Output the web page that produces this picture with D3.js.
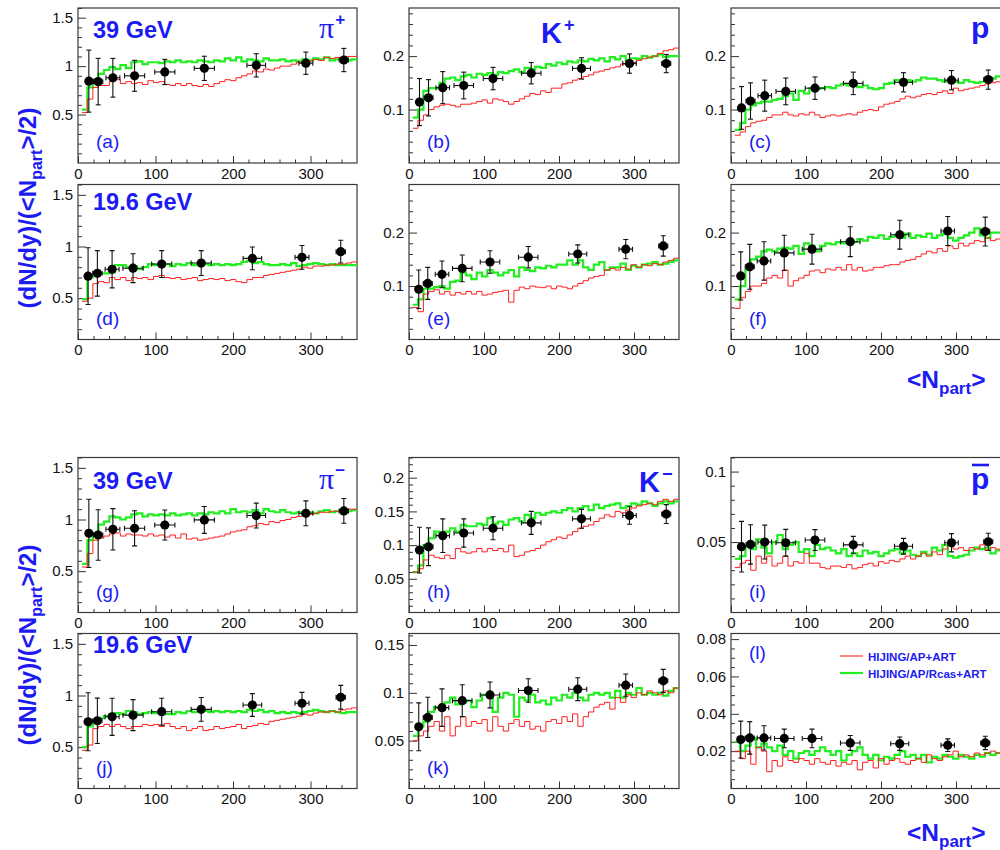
<!DOCTYPE html>
<html>
<head>
<meta charset="utf-8">
<script src="https://cdn.jsdelivr.net/npm/d3@7"></script>
<style>
body { margin: 0; background: #fff; }
text { font-family: "Liberation Sans", Arial, Helvetica, sans-serif; }
</style>
</head>
<body>
<div class="fig"></div>
<script>
// model histograms: 50 bins in <Npart>
const binLow = 5, binWidth = 7.1, nBins = 50;

// measured points
const npart39 = [14, 26, 45, 73, 112, 163, 230, 294, 343];
const npart196 = [13, 25, 44, 71, 108, 159, 225, 289, 339];
const npartErr = [4, 6, 9, 13, 13, 13, 12, 9, 6];

// (a) pi+ 39 GeV
const greenA = [0.55, 0.78, 0.86, 0.92, 0.96, 0.99, 0.97, 1.01, 0.98, 1.04,
  1.05, 1.02, 1.04, 1.04, 1.03, 1.05, 1.04, 1.06, 1.04, 1.05,
  1.04, 1.06, 1.05, 1.04, 1.06, 1.05, 1.08, 1.06, 1.09, 1.05,
  1.07, 1.06, 1.05, 1.08, 1.06, 1.06, 1.07, 1.05, 1.06, 1.05,
  1.07, 1.06, 1.08, 1.07, 1.09, 1.06, 1.07, 1.08, 1.06, 1.07];
const redA = [0.52, 0.66, 0.78, 0.80, 0.80, 0.84, 0.86, 0.82, 0.84, 0.82,
  0.83, 0.81, 0.85, 0.83, 0.84, 0.81, 0.80, 0.82, 0.80, 0.82,
  0.80, 0.79, 0.81, 0.79, 0.82, 0.84, 0.86, 0.85, 0.88, 0.90,
  0.92, 0.95, 0.94, 0.97, 0.96, 0.98, 1.00, 1.00, 1.02, 1.04,
  1.03, 1.05, 1.07, 1.06, 1.09, 1.08, 1.09, 1.08, 1.10, 1.10];
const ptsA = [0.845, 0.84, 0.88, 0.90, 0.94, 0.977, 1.008, 1.03, 1.063];
const errA = [0.32, 0.24, 0.20, 0.16, 0.13, 0.125, 0.12, 0.115, 0.12];

// (b) K+ 39 GeV
const greenB = [0.085, 0.10, 0.135, 0.14, 0.14, 0.15, 0.158, 0.16, 0.155, 0.162,
  0.165, 0.16, 0.167, 0.165, 0.168, 0.165, 0.17, 0.168, 0.172, 0.175,
  0.17, 0.178, 0.175, 0.18, 0.178, 0.185, 0.182, 0.188, 0.185, 0.19,
  0.188, 0.192, 0.19, 0.195, 0.192, 0.196, 0.19, 0.198, 0.194, 0.2,
  0.192, 0.196, 0.195, 0.2, 0.197, 0.2, 0.203, 0.198, 0.2, 0.2];
const redB = [0.065, 0.08, 0.09, 0.10, 0.105, 0.108, 0.11, 0.108, 0.105, 0.11,
  0.11, 0.112, 0.115, 0.118, 0.112, 0.12, 0.118, 0.115, 0.11, 0.115,
  0.12, 0.125, 0.13, 0.128, 0.135, 0.132, 0.14, 0.14, 0.148, 0.15,
  0.155, 0.158, 0.162, 0.165, 0.17, 0.172, 0.175, 0.178, 0.18, 0.185,
  0.19, 0.188, 0.192, 0.195, 0.198, 0.2, 0.205, 0.21, 0.212, 0.215];
const ptsB = [0.114, 0.122, 0.141, 0.145, 0.158, 0.168, 0.177, 0.186, 0.186];
const errB = [0.044, 0.034, 0.03, 0.025, 0.021, 0.02, 0.02, 0.018, 0.017];

// (c) p 39 GeV
const greenC = [0.062, 0.075, 0.10, 0.108, 0.112, 0.115, 0.115, 0.118, 0.12, 0.125,
  0.13, 0.118, 0.135, 0.13, 0.14, 0.138, 0.14, 0.142, 0.14, 0.145,
  0.148, 0.145, 0.148, 0.142, 0.145, 0.14, 0.138, 0.14, 0.148, 0.15,
  0.155, 0.15, 0.155, 0.152, 0.155, 0.16, 0.158, 0.158, 0.155, 0.152,
  0.155, 0.152, 0.15, 0.155, 0.152, 0.15, 0.152, 0.155, 0.158, 0.162];
const redC = [0.052, 0.058, 0.068, 0.075, 0.078, 0.08, 0.085, 0.09, 0.09, 0.095,
  0.09, 0.088, 0.092, 0.09, 0.095, 0.09, 0.085, 0.088, 0.09, 0.088,
  0.09, 0.092, 0.09, 0.095, 0.098, 0.10, 0.098, 0.105, 0.11, 0.112,
  0.115, 0.12, 0.125, 0.122, 0.125, 0.128, 0.13, 0.128, 0.132, 0.135,
  0.13, 0.14, 0.135, 0.138, 0.14, 0.142, 0.145, 0.148, 0.15, 0.152];
const ptsC = [0.103, 0.116, 0.126, 0.134, 0.14, 0.149, 0.151, 0.155, 0.156];
const errC = [0.04, 0.034, 0.029, 0.025, 0.021, 0.021, 0.018, 0.018, 0.018];

// (d) pi+ 19.6 GeV
const greenD = [0.49, 0.70, 0.73, 0.74, 0.74, 0.75, 0.82, 0.82, 0.80, 0.81,
  0.78, 0.80, 0.83, 0.82, 0.82, 0.83, 0.81, 0.83, 0.82, 0.84,
  0.82, 0.84, 0.83, 0.82, 0.83, 0.82, 0.83, 0.82, 0.83, 0.85,
  0.86, 0.84, 0.85, 0.83, 0.82, 0.82, 0.83, 0.82, 0.84, 0.81,
  0.82, 0.83, 0.84, 0.83, 0.82, 0.83, 0.82, 0.82, 0.82, 0.82];
const redD = [0.47, 0.50, 0.64, 0.66, 0.65, 0.70, 0.68, 0.70, 0.67, 0.70,
  0.69, 0.70, 0.68, 0.71, 0.72, 0.70, 0.69, 0.70, 0.68, 0.69,
  0.70, 0.67, 0.68, 0.69, 0.68, 0.69, 0.67, 0.68, 0.66, 0.65,
  0.68, 0.70, 0.70, 0.72, 0.73, 0.74, 0.75, 0.76, 0.77, 0.78,
  0.80, 0.79, 0.81, 0.81, 0.82, 0.82, 0.83, 0.83, 0.84, 0.85];
const ptsD = [0.713, 0.74, 0.78, 0.79, 0.83, 0.84, 0.885, 0.895, 0.95];
const errD = [0.275, 0.22, 0.18, 0.14, 0.13, 0.12, 0.11, 0.115, 0.11];

// (e) K+ 19.6 GeV
const greenE = [0.065, 0.075, 0.095, 0.095, 0.098, 0.10, 0.095, 0.108, 0.11, 0.125,
  0.12, 0.113, 0.125, 0.118, 0.13, 0.125, 0.12, 0.125, 0.13, 0.118,
  0.135, 0.13, 0.128, 0.135, 0.133, 0.138, 0.135, 0.14, 0.14, 0.148,
  0.14, 0.148, 0.135, 0.13, 0.14, 0.145, 0.13, 0.135, 0.135, 0.142,
  0.13, 0.138, 0.135, 0.14, 0.142, 0.145, 0.14, 0.142, 0.145, 0.148];
const redE = [0.06, 0.052, 0.085, 0.09, 0.093, 0.085, 0.09, 0.083, 0.088, 0.085,
  0.09, 0.085, 0.09, 0.083, 0.085, 0.088, 0.09, 0.092, 0.07, 0.092,
  0.098, 0.095, 0.10, 0.098, 0.097, 0.10, 0.095, 0.10, 0.098, 0.095,
  0.10, 0.105, 0.11, 0.115, 0.118, 0.12, 0.13, 0.133, 0.13, 0.135,
  0.132, 0.14, 0.135, 0.14, 0.138, 0.142, 0.14, 0.145, 0.148, 0.152];
const ptsE = [0.094, 0.105, 0.122, 0.133, 0.145, 0.154, 0.16, 0.169, 0.175];
const errE = [0.036, 0.03, 0.025, 0.025, 0.021, 0.02, 0.017, 0.018, 0.019];

// (f) p 19.6 GeV
const greenF = [0.075, 0.10, 0.13, 0.15, 0.155, 0.165, 0.168, 0.165, 0.17, 0.172,
  0.17, 0.175, 0.16, 0.18, 0.175, 0.165, 0.175, 0.18, 0.178, 0.182,
  0.18, 0.185, 0.182, 0.188, 0.185, 0.192, 0.19, 0.195, 0.188, 0.192,
  0.195, 0.19, 0.198, 0.19, 0.195, 0.192, 0.198, 0.19, 0.195, 0.198,
  0.19, 0.185, 0.19, 0.195, 0.20, 0.208, 0.195, 0.19, 0.20, 0.20];
const redF = [0.058, 0.078, 0.09, 0.10, 0.10, 0.105, 0.115, 0.12, 0.115, 0.13,
  0.10, 0.11, 0.115, 0.12, 0.128, 0.13, 0.125, 0.132, 0.13, 0.135,
  0.13, 0.14, 0.13, 0.135, 0.128, 0.13, 0.135, 0.135, 0.138, 0.14,
  0.14, 0.145, 0.148, 0.15, 0.155, 0.16, 0.165, 0.162, 0.17, 0.165,
  0.175, 0.17, 0.18, 0.175, 0.18, 0.185, 0.183, 0.19, 0.185, 0.188];
const ptsF = [0.119, 0.136, 0.147, 0.162, 0.169, 0.183, 0.196, 0.203, 0.202];
const errF = [0.045, 0.042, 0.036, 0.033, 0.028, 0.028, 0.027, 0.027, 0.027];

// (g) pi- 39 GeV
const greenG = [0.57, 0.80, 0.87, 0.95, 0.98, 1.03, 1.02, 1.00, 1.02, 1.05,
  1.06, 1.03, 1.05, 1.04, 1.05, 1.04, 1.06, 1.04, 1.05, 1.06,
  1.04, 1.06, 1.05, 1.07, 1.06, 1.08, 1.06, 1.10, 1.07, 1.08,
  1.07, 1.09, 1.06, 1.10, 1.08, 1.07, 1.09, 1.07, 1.06, 1.07,
  1.05, 1.07, 1.06, 1.08, 1.09, 1.07, 1.08, 1.09, 1.08, 1.09];
const redG = [0.54, 0.67, 0.80, 0.82, 0.84, 0.86, 0.87, 0.84, 0.86, 0.85,
  0.85, 0.84, 0.86, 0.84, 0.85, 0.83, 0.85, 0.82, 0.86, 0.81,
  0.82, 0.80, 0.81, 0.82, 0.83, 0.84, 0.86, 0.88, 0.89, 0.90,
  0.93, 0.94, 0.96, 0.95, 0.98, 0.97, 0.99, 1.00, 1.02, 1.03,
  1.04, 1.05, 1.06, 1.07, 1.07, 1.08, 1.08, 1.09, 1.10, 1.10];
const ptsG = [0.866, 0.85, 0.905, 0.915, 0.947, 0.996, 1.038, 1.06, 1.083];
const errG = [0.33, 0.245, 0.20, 0.17, 0.145, 0.13, 0.12, 0.12, 0.12];

// (h) K- 39 GeV
const greenH = [0.06, 0.07, 0.10, 0.11, 0.12, 0.115, 0.12, 0.125, 0.12, 0.13,
  0.128, 0.128, 0.132, 0.13, 0.14, 0.132, 0.135, 0.13, 0.138, 0.14,
  0.135, 0.145, 0.14, 0.148, 0.145, 0.148, 0.15, 0.148, 0.152, 0.155,
  0.15, 0.155, 0.158, 0.152, 0.16, 0.155, 0.158, 0.16, 0.162, 0.155,
  0.158, 0.162, 0.16, 0.165, 0.162, 0.158, 0.162, 0.165, 0.162, 0.165];
const redH = [0.06, 0.065, 0.078, 0.085, 0.082, 0.08, 0.085, 0.08, 0.095, 0.09,
  0.088, 0.09, 0.095, 0.09, 0.095, 0.092, 0.095, 0.09, 0.10, 0.083,
  0.085, 0.09, 0.092, 0.095, 0.10, 0.105, 0.108, 0.112, 0.11, 0.115,
  0.12, 0.125, 0.128, 0.13, 0.135, 0.14, 0.145, 0.142, 0.15, 0.148,
  0.152, 0.155, 0.158, 0.16, 0.162, 0.16, 0.165, 0.168, 0.165, 0.168];
const ptsH = [0.0926, 0.0975, 0.114, 0.118, 0.125, 0.133, 0.139, 0.144, 0.146];
const errH = [0.034, 0.028, 0.025, 0.021, 0.017, 0.017, 0.014, 0.013, 0.014];

// (i) pbar 39 GeV
const greenI = [0.038, 0.04, 0.047, 0.045, 0.052, 0.046, 0.042, 0.05, 0.055, 0.045,
  0.048, 0.05, 0.043, 0.045, 0.04, 0.048, 0.045, 0.046, 0.044, 0.042,
  0.045, 0.04, 0.042, 0.04, 0.044, 0.042, 0.043, 0.04, 0.042, 0.044,
  0.045, 0.042, 0.044, 0.041, 0.04, 0.043, 0.041, 0.046, 0.044, 0.048,
  0.04, 0.039, 0.04, 0.041, 0.044, 0.046, 0.045, 0.046, 0.042, 0.044];
const redI = [0.032, 0.035, 0.037, 0.03, 0.04, 0.035, 0.04, 0.033, 0.035, 0.04,
  0.033, 0.036, 0.035, 0.042, 0.035, 0.035, 0.032, 0.031, 0.033, 0.033,
  0.032, 0.034, 0.031, 0.032, 0.034, 0.035, 0.033, 0.036, 0.035, 0.037,
  0.036, 0.038, 0.04, 0.038, 0.04, 0.042, 0.04, 0.043, 0.041, 0.045,
  0.048, 0.045, 0.046, 0.044, 0.046, 0.045, 0.048, 0.044, 0.046, 0.045];
const ptsI = [0.0467, 0.0483, 0.05, 0.0495, 0.0514, 0.048, 0.047, 0.0495, 0.0502];
const errI = [0.018, 0.014, 0.012, 0.0095, 0.0074, 0.006, 0.0056, 0.0065, 0.006];

// (j) pi- 19.6 GeV
const greenJ = [0.50, 0.70, 0.76, 0.78, 0.80, 0.82, 0.83, 0.82, 0.85, 0.84,
  0.82, 0.83, 0.84, 0.83, 0.85, 0.82, 0.82, 0.84, 0.83, 0.85,
  0.84, 0.86, 0.85, 0.84, 0.85, 0.84, 0.85, 0.84, 0.85, 0.84,
  0.86, 0.85, 0.86, 0.84, 0.85, 0.83, 0.84, 0.83, 0.84, 0.83,
  0.84, 0.85, 0.86, 0.85, 0.84, 0.85, 0.84, 0.83, 0.84, 0.84];
const redJ = [0.47, 0.52, 0.68, 0.70, 0.72, 0.70, 0.72, 0.70, 0.68, 0.70,
  0.70, 0.72, 0.71, 0.72, 0.70, 0.73, 0.70, 0.68, 0.70, 0.66,
  0.68, 0.70, 0.66, 0.67, 0.70, 0.68, 0.69, 0.70, 0.72, 0.68,
  0.70, 0.71, 0.73, 0.72, 0.75, 0.76, 0.77, 0.78, 0.79, 0.80,
  0.82, 0.81, 0.83, 0.84, 0.84, 0.85, 0.84, 0.86, 0.87, 0.88];
const ptsJ = [0.746, 0.755, 0.794, 0.81, 0.843, 0.866, 0.908, 0.925, 0.983];
const errJ = [0.28, 0.22, 0.18, 0.15, 0.13, 0.115, 0.11, 0.105, 0.115];

// (k) K- 19.6 GeV
const greenK = [0.055, 0.065, 0.07, 0.08, 0.085, 0.083, 0.09, 0.095, 0.088, 0.09,
  0.092, 0.085, 0.092, 0.098, 0.10, 0.08, 0.095, 0.10, 0.098, 0.075,
  0.095, 0.092, 0.098, 0.09, 0.092, 0.088, 0.095, 0.092, 0.098, 0.095,
  0.10, 0.095, 0.092, 0.098, 0.10, 0.098, 0.10, 0.095, 0.102, 0.095,
  0.10, 0.098, 0.105, 0.098, 0.10, 0.098, 0.10, 0.097, 0.102, 0.105];
const redK = [0.05, 0.055, 0.06, 0.065, 0.07, 0.06, 0.075, 0.055, 0.065, 0.075,
  0.065, 0.07, 0.068, 0.072, 0.06, 0.075, 0.065, 0.06, 0.068, 0.072,
  0.065, 0.07, 0.062, 0.065, 0.06, 0.07, 0.072, 0.068, 0.075, 0.07,
  0.078, 0.065, 0.075, 0.08, 0.085, 0.088, 0.09, 0.083, 0.095, 0.09,
  0.098, 0.095, 0.10, 0.098, 0.102, 0.10, 0.098, 0.102, 0.10, 0.105];
const ptsK = [0.0645, 0.0743, 0.0845, 0.0918, 0.0978, 0.1024, 0.1038, 0.108, 0.1125];
const errK = [0.025, 0.021, 0.0196, 0.0167, 0.0135, 0.0123, 0.012, 0.0116, 0.012];

// (l) pbar 19.6 GeV
const greenL = [0.025, 0.02, 0.023, 0.027, 0.022, 0.024, 0.022, 0.02, 0.023, 0.018,
  0.02, 0.016, 0.019, 0.02, 0.018, 0.02, 0.022, 0.02, 0.018, 0.02,
  0.015, 0.018, 0.02, 0.022, 0.018, 0.016, 0.018, 0.015, 0.017, 0.016,
  0.018, 0.02, 0.017, 0.018, 0.016, 0.018, 0.014, 0.017, 0.016, 0.018,
  0.017, 0.016, 0.018, 0.017, 0.016, 0.018, 0.017, 0.019, 0.018, 0.019];
const redL = [0.02, 0.016, 0.02, 0.013, 0.022, 0.02, 0.009, 0.015, 0.012, 0.017,
  0.015, 0.014, 0.016, 0.015, 0.013, 0.016, 0.014, 0.013, 0.015, 0.012,
  0.014, 0.013, 0.015, 0.01, 0.014, 0.015, 0.011, 0.016, 0.013, 0.015,
  0.016, 0.014, 0.013, 0.015, 0.016, 0.014, 0.018, 0.016, 0.015, 0.017,
  0.018, 0.02, 0.017, 0.018, 0.017, 0.019, 0.018, 0.019, 0.02, 0.019];
const ptsL = [0.0262, 0.0271, 0.0271, 0.0268, 0.0268, 0.0244, 0.024, 0.0232, 0.0244];
const errL = [0.0099, 0.0087, 0.0065, 0.005, 0.005, 0.004, 0.0036, 0.0034, 0.0036];

const xTicks = [0, 100, 200, 300];
const energyLabels = ["39 GeV", "19.6 GeV", "39 GeV", "19.6 GeV"];
const legendLabels = ["HIJING/AP+ART", "HIJING/AP/Rcas+ART"];

const panels = [
  {tag: "(a)", row: 0, col: 0, dom: [0, 1.6], ticks: [0.5, 1, 1.5], minor: 0.1, red: redA, green: greenA, pts: ptsA, err: errA, np: npart39},
  {tag: "(b)", row: 0, col: 1, dom: [0, 0.29], ticks: [0.1, 0.2], minor: 0.02, red: redB, green: greenB, pts: ptsB, err: errB, np: npart39},
  {tag: "(c)", row: 0, col: 2, dom: [0, 0.29], ticks: [0.1, 0.2], minor: 0.02, red: redC, green: greenC, pts: ptsC, err: errC, np: npart39},
  {tag: "(d)", row: 1, col: 0, dom: [0.1, 1.6], ticks: [0.5, 1, 1.5], minor: 0.1, red: redD, green: greenD, pts: ptsD, err: errD, np: npart196},
  {tag: "(e)", row: 1, col: 1, dom: [0, 0.29], ticks: [0.1, 0.2], minor: 0.02, red: redE, green: greenE, pts: ptsE, err: errE, np: npart196},
  {tag: "(f)", row: 1, col: 2, dom: [0, 0.29], ticks: [0.1, 0.2], minor: 0.02, red: redF, green: greenF, pts: ptsF, err: errF, np: npart196},
  {tag: "(g)", row: 2, col: 0, dom: [0.1, 1.6], ticks: [0.5, 1, 1.5], minor: 0.1, red: redG, green: greenG, pts: ptsG, err: errG, np: npart39},
  {tag: "(h)", row: 2, col: 1, dom: [0, 0.23], ticks: [0.05, 0.1, 0.15, 0.2], minor: 0.01, red: redH, green: greenH, pts: ptsH, err: errH, np: npart39},
  {tag: "(i)", row: 2, col: 2, dom: [0, 0.11], ticks: [0.05, 0.1], minor: 0.01, red: redI, green: greenI, pts: ptsI, err: errI, np: npart39},
  {tag: "(j)", row: 3, col: 0, dom: [0.1, 1.6], ticks: [0.5, 1, 1.5], minor: 0.1, red: redJ, green: greenJ, pts: ptsJ, err: errJ, np: npart196},
  {tag: "(k)", row: 3, col: 1, dom: [0, 0.162], ticks: [0.05, 0.1, 0.15], minor: 0.01, red: redK, green: greenK, pts: ptsK, err: errK, np: npart196},
  {tag: "(l)", row: 3, col: 2, dom: [0, 0.083], ticks: [0.02, 0.04, 0.06, 0.08], minor: 0.005, red: redL, green: greenL, pts: ptsL, err: errL, np: npart196}
];

const width = 1000, height = 850;
const blue = "#1b1bf2", red = "#ff1f1f", green = "#22ee22";
const colX = [78, 409, 731], colW = [279, 270, 270];
const rowY = [8, 184.5, 457.5, 633.5], panelH = 155;

const svg = d3.select(".fig").append("svg")
  .attr("width", width)
  .attr("height", height);

const edges = d3.range(nBins + 1).map(i => binLow + i * binWidth);

function drawPanel(p, idx) {
  const x0 = colX[p.col], y0 = rowY[p.row], w = colW[p.col];
  const x = d3.scaleLinear().domain([0, 360]).range([x0, x0 + w]);
  const y = d3.scaleLinear().domain(p.dom).range([y0 + panelH, y0]);
  const g = svg.append("g");

  g.append("clipPath").attr("id", "clip" + idx)
    .append("rect").attr("x", x0).attr("y", y0).attr("width", w).attr("height", panelH);

  // x axis (ticks inside)
  const xMinor = d3.range(20, 360, 20).filter(v => v % 100 !== 0);
  g.append("g")
    .attr("transform", `translate(0,${y0 + panelH})`)
    .call(d3.axisBottom(x).tickValues(xMinor).tickSize(-3.5).tickFormat(""))
    .call(a => a.select(".domain").remove());
  g.append("g")
    .attr("transform", `translate(0,${y0 + panelH})`)
    .call(d3.axisBottom(x).tickValues(xTicks).tickSize(-7).tickPadding(5).tickFormat(d3.format("d")))
    .call(a => a.select(".domain").remove())
    .call(a => a.selectAll("text").attr("font-size", 15).attr("fill", "#111")
      .attr("font-family", "'Liberation Sans', Arial, sans-serif"));

  // y axis
  const yMinor = d3.range(Math.ceil(p.dom[0] / p.minor - 1e-6), Math.floor(p.dom[1] / p.minor + 1e-6) + 1)
    .map(k => +(k * p.minor).toFixed(4))
    .filter(v => v > p.dom[0] && !p.ticks.some(t => Math.abs(t - v) < 1e-6));
  g.append("g")
    .attr("transform", `translate(${x0},0)`)
    .call(d3.axisLeft(y).tickValues(yMinor).tickSize(-4).tickFormat(""))
    .call(a => a.select(".domain").remove());
  g.append("g")
    .attr("transform", `translate(${x0},0)`)
    .call(d3.axisLeft(y).tickValues(p.ticks).tickSize(-8).tickPadding(5).tickFormat(d => String(d)))
    .call(a => a.select(".domain").remove())
    .call(a => a.selectAll("text").attr("font-size", 15).attr("fill", "#111")
      .attr("font-family", "'Liberation Sans', Arial, sans-serif"));
  g.selectAll(".tick line").attr("stroke", "#333");

  // frame
  g.append("rect")
    .attr("x", x0).attr("y", y0).attr("width", w).attr("height", panelH)
    .attr("fill", "none").attr("stroke", "#3a3a3a").attr("stroke-width", 1.2);

  // model histograms
  const step = d3.line().x(d => x(d[0])).y(d => y(d[1])).curve(d3.curveStepAfter);
  const hist = vals => vals.map((v, i) => [edges[i], v]).concat([[edges[nBins], vals[nBins - 1]]]);
  const plot = g.append("g").attr("clip-path", `url(#clip${idx})`);
  plot.append("path").datum(hist(p.green)).attr("d", step)
    .attr("fill", "none").attr("stroke", green).attr("stroke-width", 2.2);
  plot.append("path").datum(hist(p.red)).attr("d", step)
    .attr("fill", "none").attr("stroke", red).attr("stroke-width", 1);

  // data points with errors
  const pts = p.pts.map((v, i) => ({n: p.np[i], v: v, e: p.err[i], ex: npartErr[i]}));
  const pg = plot.append("g").attr("stroke", "#111").attr("stroke-width", 1.1);
  pts.forEach(d => {
    const cx = x(d.n), cy = y(d.v);
    const top = y(d.v + d.e), bot = y(d.v - d.e);
    pg.append("line").attr("x1", cx).attr("x2", cx).attr("y1", top).attr("y2", bot);
    pg.append("line").attr("x1", cx - 2.5).attr("x2", cx + 2.5).attr("y1", top).attr("y2", top);
    pg.append("line").attr("x1", cx - 2.5).attr("x2", cx + 2.5).attr("y1", bot).attr("y2", bot);
    const l = x(d.n - d.ex), r = x(d.n + d.ex);
    pg.append("line").attr("x1", l).attr("x2", r).attr("y1", cy).attr("y2", cy);
    pg.append("line").attr("x1", l).attr("x2", l).attr("y1", cy - 2.5).attr("y2", cy + 2.5);
    pg.append("line").attr("x1", r).attr("x2", r).attr("y1", cy - 2.5).attr("y2", cy + 2.5);
  });
  plot.append("g").selectAll("circle").data(pts).join("circle")
    .attr("cx", d => x(d.n)).attr("cy", d => y(d.v)).attr("r", 4.6).attr("fill", "#000");

  // panel tag
  const tagY = p.tag === "(l)" ? y0 + 25 : y0 + 140;
  g.append("text").attr("x", x0 + 18).attr("y", tagY)
    .attr("font-size", 19).attr("fill", blue).text(p.tag);
}

panels.forEach(drawPanel);

// energy labels
const energyY = [38, 210, 489, 653];
energyLabels.forEach((t, i) => {
  svg.append("text").attr("x", 93).attr("y", energyY[i])
    .attr("font-size", 23.5).attr("font-weight", "bold").attr("fill", blue).text(t);
});

// particle labels
function pion(xp, yp, sign) {
  const t = svg.append("text").attr("x", xp).attr("y", yp).attr("fill", blue);
  t.append("tspan").attr("font-family", "'Liberation Serif', 'DejaVu Serif', serif")
    .attr("font-size", 30).text("π");
  t.append("tspan").attr("dy", -13).attr("dx", 1).attr("font-size", 17)
    .attr("font-weight", "bold").text(sign);
}
function kaon(xp, yp, sign) {
  const t = svg.append("text").attr("x", xp).attr("y", yp).attr("fill", blue)
    .attr("font-weight", "bold");
  t.append("tspan").attr("font-size", 29).text("K");
  t.append("tspan").attr("dy", -12).attr("dx", 2).attr("font-size", 18).text(sign);
}
pion(319, 38, "+");
pion(319, 489, "−");
kaon(541, 43, "+");
kaon(639, 492, "−");
svg.append("text").attr("x", 971).attr("y", 38).attr("fill", blue)
  .attr("font-weight", "bold").attr("font-size", 30).text("p");
svg.append("text").attr("x", 971).attr("y", 489).attr("fill", blue)
  .attr("font-weight", "bold").attr("font-size", 30).text("p");
svg.append("line").attr("x1", 972).attr("x2", 989).attr("y1", 465).attr("y2", 465)
  .attr("stroke", blue).attr("stroke-width", 2.6);

// legend in panel (l)
legendLabels.forEach((t, i) => {
  const ly = 656 + i * 17;
  svg.append("line").attr("x1", 840).attr("x2", 863).attr("y1", ly).attr("y2", ly)
    .attr("stroke", i === 0 ? red : green).attr("stroke-width", i === 0 ? 1.1 : 2.2);
  svg.append("text").attr("x", 868).attr("y", ly + 4.5)
    .attr("font-size", 11.5).attr("font-weight", "bold").attr("fill", blue).text(t);
});

// axis titles
function yTitle(cy) {
  const t = svg.append("text")
    .attr("transform", `translate(36,${cy}) rotate(-90)`)
    .attr("text-anchor", "middle")
    .attr("font-size", 24).attr("font-weight", "bold").attr("fill", blue);
  t.append("tspan").text("(dN/dy)/(<N");
  t.append("tspan").attr("dy", 6).attr("font-size", 16).text("part");
  t.append("tspan").attr("dy", -6).text(">/2)");
}
yTitle(208);
yTitle(645);

function xTitle(by) {
  const t = svg.append("text").attr("x", 907).attr("y", by)
    .attr("font-size", 24.5).attr("font-weight", "bold").attr("fill", blue);
  t.append("tspan").text("<N");
  t.append("tspan").attr("dy", 6).attr("font-size", 17).text("part");
  t.append("tspan").attr("dy", -6).text(">");
}
xTitle(388);
xTitle(841);
</script>
</body>
</html>
